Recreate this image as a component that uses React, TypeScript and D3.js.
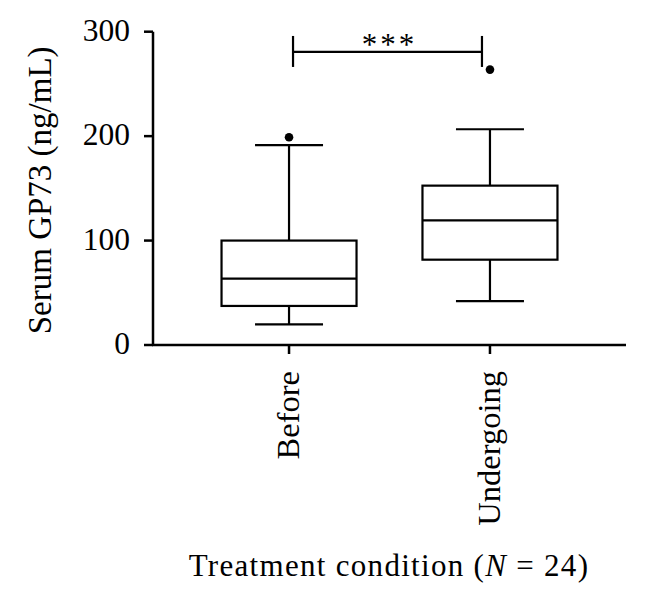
import React from "react";
import * as d3 from "d3";

const categories = ["Before", "Undergoing"];
const whiskerLow = [19.8, 42.1];
const q1 = [37.4, 81.7];
const median = [63.5, 119.4];
const q3 = [100, 152.6];
const whiskerHigh = [191.3, 206.6];
const outliers = [199, 263.7];
const yTicks = [0, 100, 200, 300];
const bracketValue = 280.6;
const significance = "***";

const W = 647;
const H = 611;
const FONT = "'Liberation Serif', 'Times New Roman', serif";

export default function App() {
  const x = d3.scalePoint<string>().domain(categories).range([153, 626]).padding(0.677);
  const y = d3.scaleLinear().domain([0, 300]).range([345, 31.7]);
  const boxW = 135;
  const capW = 68;
  const sw = 2.2;
  const bx1 = (x("Before") as number) + 4;
  const bx2 = (x("Undergoing") as number) - 8;
  const by = y(bracketValue);

  return (
    <svg width={W} height={H} style={{ position: "absolute", left: 0, top: 0, background: "#fff" }}>
      {/* y axis */}
      <line x1={153} x2={153} y1={y(300)} y2={y(0)} stroke="#000" strokeWidth={2.5} />
      {yTicks.map((t) => (
        <g key={t}>
          <line x1={144} x2={153} y1={y(t)} y2={y(t)} stroke="#000" strokeWidth={2.5} />
          <text x={130} y={y(t) + 9} textAnchor="end" fontFamily={FONT} fontSize={31.5} fill="#000">
            {t}
          </text>
        </g>
      ))}
      {/* x axis */}
      <line x1={152} x2={626} y1={y(0)} y2={y(0)} stroke="#000" strokeWidth={2.5} />
      {categories.map((c) => (
        <g key={c}>
          <line x1={x(c)} x2={x(c)} y1={y(0)} y2={y(0) + 9} stroke="#000" strokeWidth={2.5} />
          <text
            transform={`translate(${(x(c) as number) + 10},${y(0) + 26}) rotate(-90)`}
            textAnchor="end"
            fontFamily={FONT}
            fontSize={32.5}
            fill="#000"
          >
            {c}
          </text>
        </g>
      ))}
      {/* boxes */}
      {categories.map((c, i) => {
        const cx = x(c) as number;
        return (
          <g key={c} stroke="#000" strokeWidth={sw} fill="none">
            <line x1={cx} x2={cx} y1={y(whiskerHigh[i])} y2={y(q3[i])} />
            <line x1={cx} x2={cx} y1={y(q1[i])} y2={y(whiskerLow[i])} />
            <line x1={cx - capW / 2} x2={cx + capW / 2} y1={y(whiskerHigh[i])} y2={y(whiskerHigh[i])} />
            <line x1={cx - capW / 2} x2={cx + capW / 2} y1={y(whiskerLow[i])} y2={y(whiskerLow[i])} />
            <rect x={cx - boxW / 2} y={y(q3[i])} width={boxW} height={y(q1[i]) - y(q3[i])} fill="#fff" />
            <line x1={cx - boxW / 2} x2={cx + boxW / 2} y1={y(median[i])} y2={y(median[i])} />
            <circle cx={cx} cy={y(outliers[i])} r={4.3} fill="#000" stroke="none" />
          </g>
        );
      })}
      {/* significance bracket */}
      <g stroke="#000" strokeWidth={sw}>
        <line x1={bx1} x2={bx2} y1={by} y2={by} />
        <line x1={bx1} x2={bx1} y1={by - 16} y2={by + 15} />
        <line x1={bx2} x2={bx2} y1={by - 16} y2={by + 15} />
      </g>
      <text x={(bx1 + bx2) / 2 + 2} y={by + 3} textAnchor="middle" fontFamily={FONT} fontSize={31} letterSpacing={3} fill="#000">
        {significance}
      </text>
      {/* axis titles */}
      <text
        transform={`translate(51,${(y(0) + y(300)) / 2 + 2}) rotate(-90)`}
        textAnchor="middle"
        fontFamily={FONT}
        fontSize={33}
        fill="#000"
      >
        Serum GP73 (ng/mL)
      </text>
      <text x={389} y={576} textAnchor="middle" fontFamily={FONT} fontSize={31} letterSpacing={1.3} fill="#000">
        Treatment condition (<tspan fontStyle="italic">N</tspan> = 24)
      </text>
    </svg>
  );
}
